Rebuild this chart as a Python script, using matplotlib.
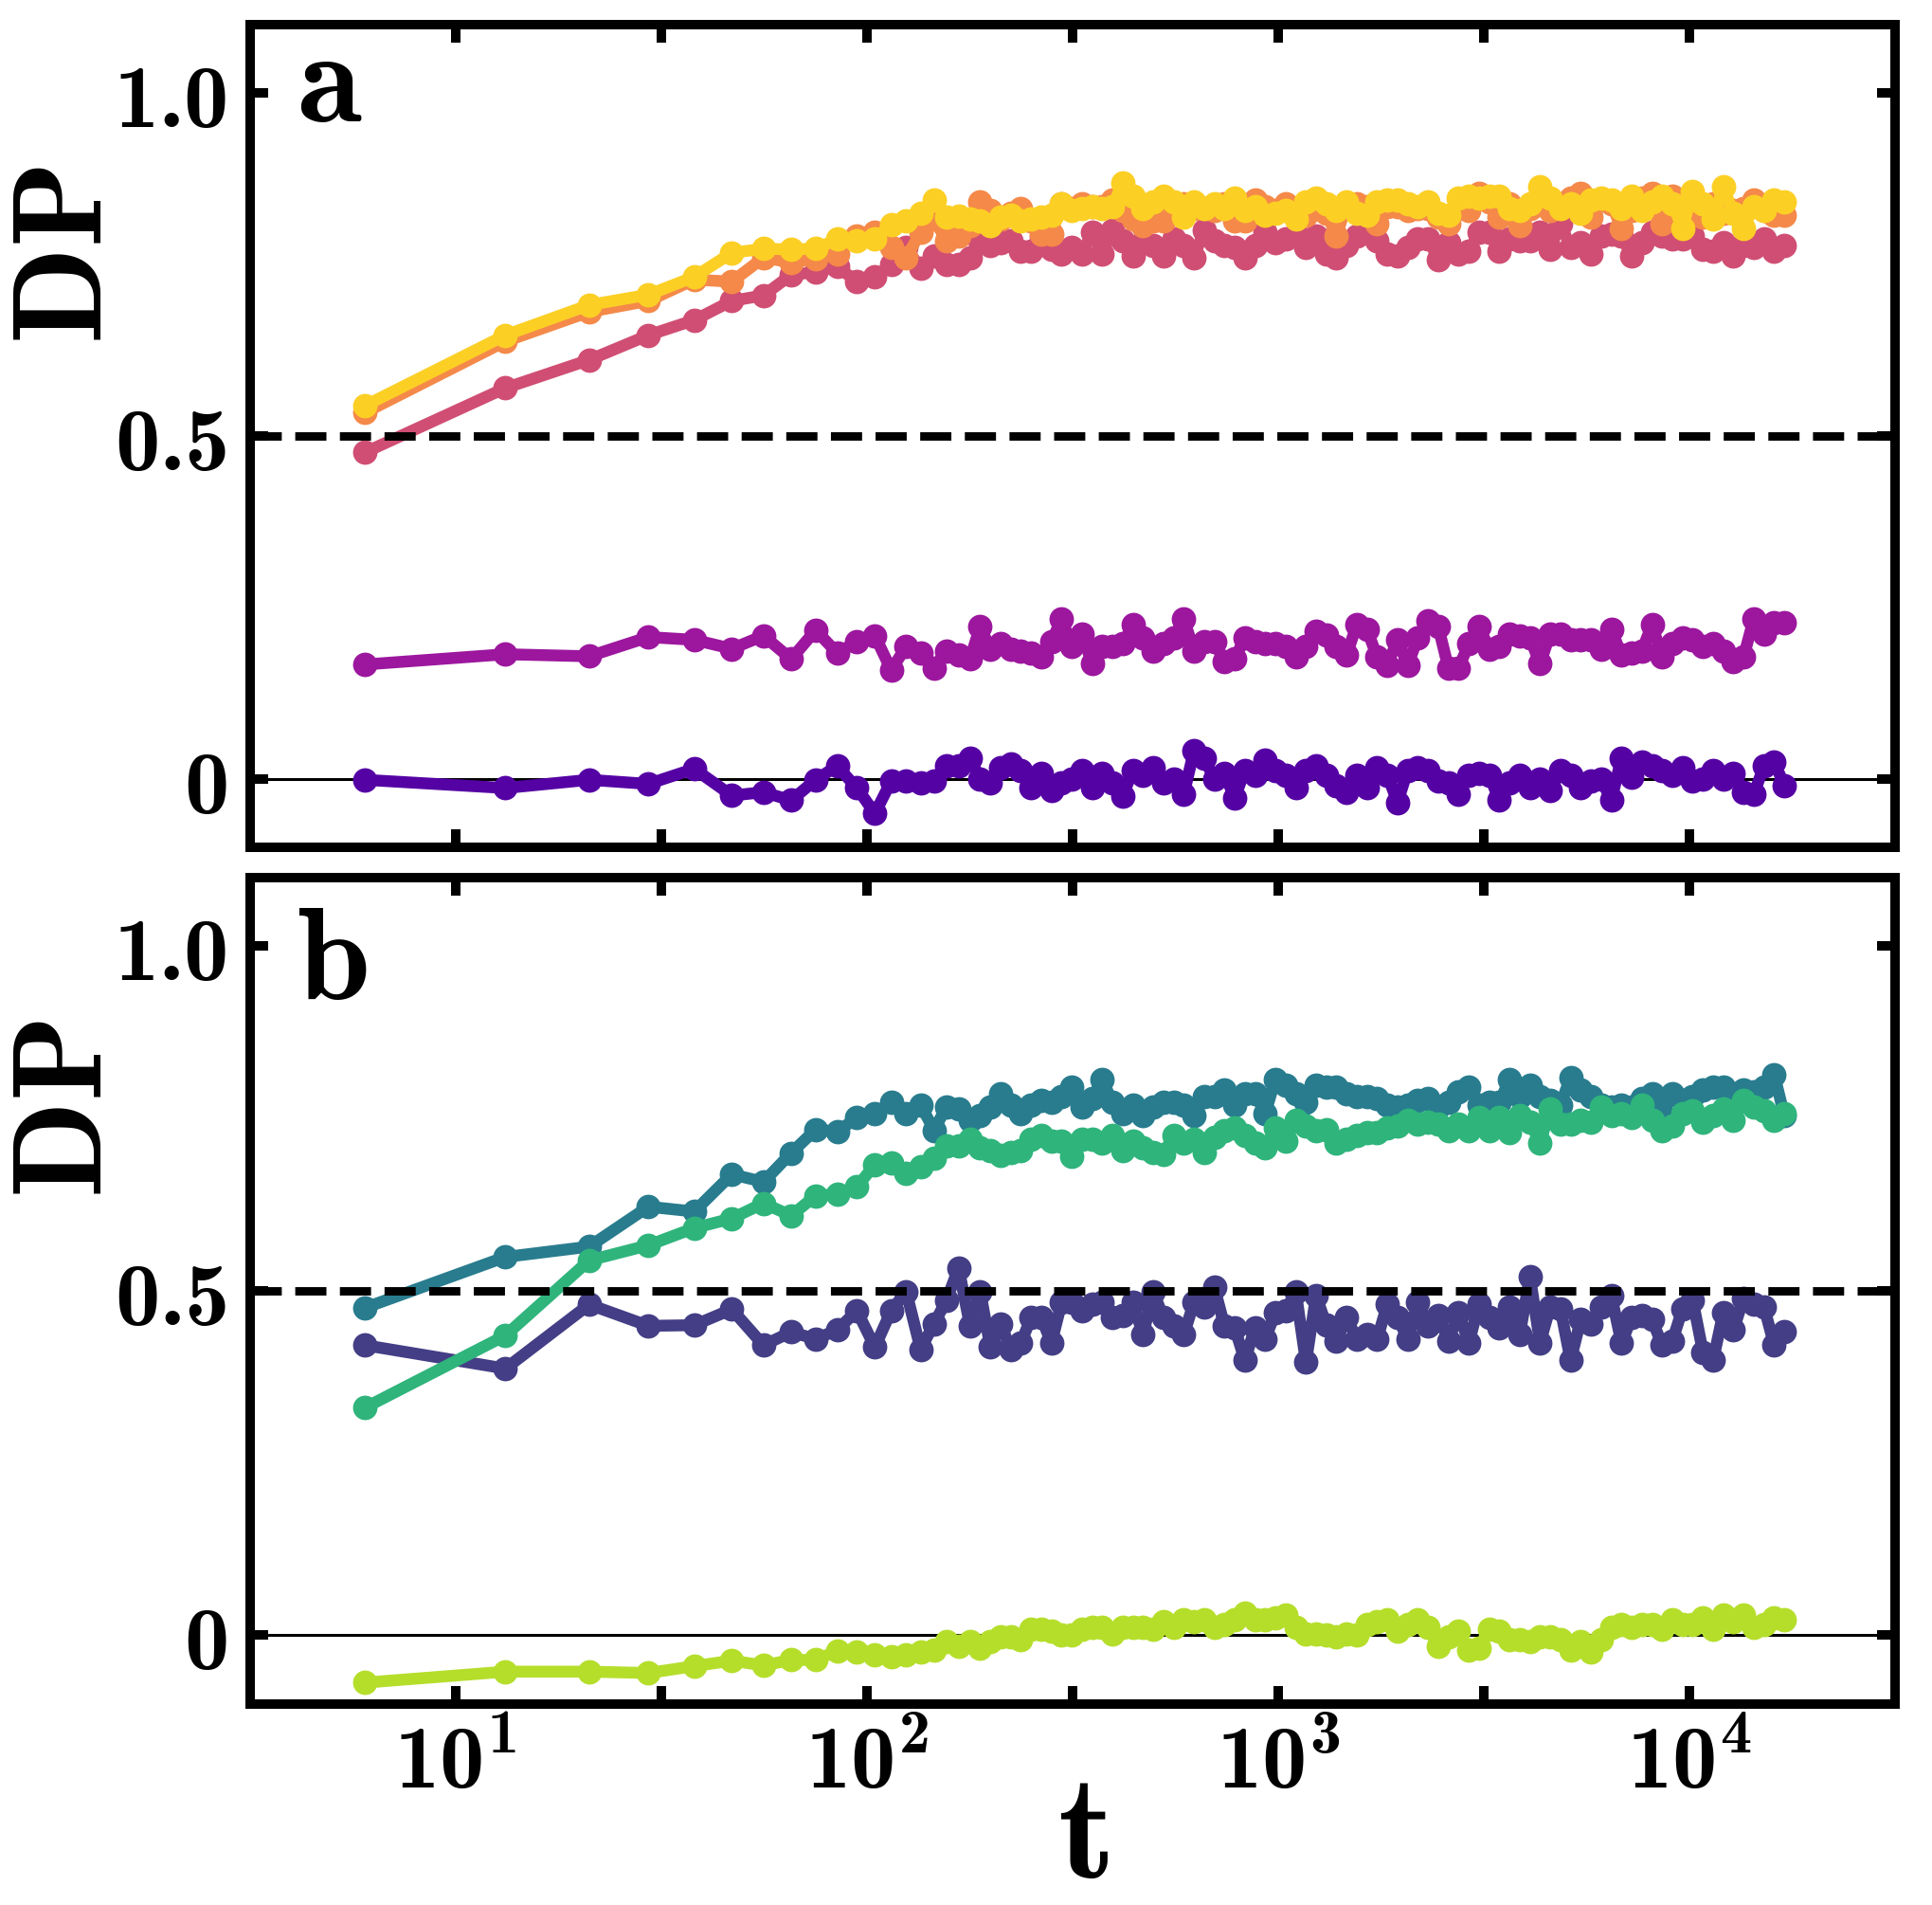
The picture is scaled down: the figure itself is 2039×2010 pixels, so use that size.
import matplotlib
matplotlib.use('Agg')
import matplotlib.pyplot as plt
from matplotlib.ticker import FixedLocator, NullFormatter, NullLocator

plt.rcParams['mathtext.fontset'] = 'custom'
plt.rcParams['mathtext.rm'] = 'cmb10'
plt.rcParams['mathtext.it'] = 'cmb10'
plt.rcParams['mathtext.bf'] = 'cmb10'
plt.rcParams['mathtext.sf'] = 'cmb10'

# ---------------- data ----------------
t = [6.0, 13.2, 21.1, 29.4, 38.0, 46.9, 56.0, 65.4, 75.0, 84.6,
     94.5, 104.5, 114.5, 124.5, 135, 145.5, 156, 167, 178, 188.4,
     199.5, 211.2, 223.6, 236.7, 250.6, 265.3, 280.8, 297.3, 314.7, 333.2,
     352.7, 373.4, 395.3, 418.5, 443.1, 469.1, 496.6, 525.7, 556.5, 589.2,
     623.7, 660.3, 699.0, 740.0, 783.4, 829.4, 878.0, 929.5, 984.1, 1041.8,
     1102.9, 1167.6, 1236.0, 1308.5, 1385.3, 1466.5, 1552.6, 1643.6, 1740.0, 1842.1,
     1950.1, 2064.5, 2185.6, 2313.8, 2449.5, 2593.2, 2745.3, 2906.3, 3076.8, 3257.2,
     3448.3, 3650.5, 3864.7, 4091.3, 4331.3, 4585.3, 4854.3, 5139.0, 5440.4, 5759.5,
     6097.3, 6455.0, 6833.6, 7234.4, 7658.7, 8107.9, 8583.4, 9086.8, 9619.8, 10184,
     10781, 11413, 12083, 12792, 13542, 14336, 15177, 16067, 17009]

a_dark = [-0.001, -0.013, -0.001, -0.007, 0.015, -0.024, -0.019, -0.031, -0.001, 0.019,
          -0.013, -0.050, -0.003, -0.003, -0.006, -0.003, 0.019, 0.019, 0.031, 0.000,
          -0.006, 0.016, 0.022, 0.013, -0.013, 0.009, -0.016, -0.006, 0.000, 0.013,
          -0.013, 0.009, -0.006, -0.025, 0.013, 0.006, 0.016, -0.006, 0.000, -0.022,
          0.041, 0.031, 0.000, 0.009, -0.028, 0.013, 0.006, 0.028, 0.013, 0.006,
          -0.013, 0.013, 0.019, 0.006, -0.009, -0.019, 0.006, -0.013, 0.016, 0.006,
          -0.034, 0.013, 0.016, 0.013, -0.003, -0.006, -0.022, 0.006, 0.009, 0.006,
          -0.031, -0.006, 0.006, -0.013, 0.000, -0.016, 0.013, 0.006, -0.013, -0.003,
          0.000, -0.031, 0.031, 0.003, 0.025, 0.019, 0.013, 0.006, 0.016, -0.003,
          0.000, 0.013, 0.000, 0.009, -0.019, -0.022, 0.019, 0.025, -0.009]

a_magenta = [0.167, 0.182, 0.179, 0.207, 0.203, 0.190, 0.209, 0.175, 0.217, 0.184,
             0.200, 0.209, 0.159, 0.193, 0.184, 0.162, 0.187, 0.181, 0.175, 0.222,
             0.190, 0.197, 0.190, 0.187, 0.184, 0.178, 0.200, 0.234, 0.193, 0.212,
             0.168, 0.193, 0.193, 0.197, 0.225, 0.206, 0.187, 0.197, 0.206, 0.234,
             0.187, 0.200, 0.200, 0.171, 0.175, 0.206, 0.200, 0.197, 0.197, 0.193,
             0.178, 0.193, 0.215, 0.210, 0.193, 0.181, 0.225, 0.218, 0.178, 0.166,
             0.203, 0.166, 0.206, 0.231, 0.222, 0.162, 0.162, 0.197, 0.222, 0.190,
             0.193, 0.212, 0.209, 0.206, 0.168, 0.212, 0.212, 0.203, 0.203, 0.203,
             0.190, 0.218, 0.181, 0.184, 0.187, 0.225, 0.178, 0.197, 0.206, 0.203,
             0.193, 0.197, 0.187, 0.171, 0.178, 0.234, 0.212, 0.228, 0.228]

a_pink = [0.476, 0.570, 0.611, 0.647, 0.669, 0.697, 0.705, 0.735, 0.739, 0.747,
          0.725, 0.732, 0.750, 0.775, 0.744, 0.763, 0.750, 0.750, 0.760, 0.785,
          0.778, 0.782, 0.785, 0.769, 0.769, 0.790, 0.772, 0.766, 0.775, 0.766,
          0.797, 0.766, 0.800, 0.785, 0.763, 0.782, 0.778, 0.763, 0.788, 0.778,
          0.760, 0.800, 0.785, 0.778, 0.775, 0.760, 0.778, 0.797, 0.782, 0.788,
          0.794, 0.775, 0.791, 0.766, 0.760, 0.778, 0.791, 0.797, 0.785, 0.766,
          0.763, 0.775, 0.788, 0.788, 0.757, 0.782, 0.766, 0.769, 0.797, 0.797,
          0.769, 0.788, 0.785, 0.785, 0.797, 0.772, 0.810, 0.775, 0.782, 0.766,
          0.791, 0.794, 0.791, 0.763, 0.782, 0.797, 0.791, 0.788, 0.788, 0.791,
          0.772, 0.769, 0.782, 0.763, 0.778, 0.775, 0.788, 0.769, 0.778]

a_orange = [0.534, 0.638, 0.681, 0.697, 0.728, 0.725, 0.760, 0.753, 0.758, 0.766,
            0.791, 0.797, 0.775, 0.760, 0.797, 0.816, 0.785, 0.791, 0.807, 0.841,
            0.829, 0.816, 0.825, 0.832, 0.813, 0.794, 0.794, 0.838, 0.832, 0.838,
            0.835, 0.835, 0.844, 0.829, 0.816, 0.807, 0.813, 0.813, 0.832, 0.838,
            0.832, 0.832, 0.829, 0.838, 0.813, 0.813, 0.844, 0.835, 0.829, 0.838,
            0.829, 0.822, 0.832, 0.825, 0.791, 0.838, 0.838, 0.835, 0.810, 0.835,
            0.835, 0.829, 0.832, 0.832, 0.819, 0.810, 0.832, 0.829, 0.854, 0.841,
            0.819, 0.838, 0.807, 0.832, 0.844, 0.829, 0.838, 0.847, 0.854, 0.819,
            0.844, 0.838, 0.803, 0.829, 0.847, 0.854, 0.810, 0.850, 0.816, 0.829,
            0.819, 0.838, 0.825, 0.829, 0.832, 0.844, 0.829, 0.822, 0.822]

a_yellow = [0.544, 0.647, 0.691, 0.706, 0.732, 0.767, 0.773, 0.772, 0.773, 0.787,
            0.785, 0.788, 0.808, 0.813, 0.825, 0.844, 0.819, 0.820, 0.816, 0.813,
            0.807, 0.819, 0.822, 0.813, 0.816, 0.819, 0.822, 0.838, 0.829, 0.832,
            0.835, 0.832, 0.835, 0.869, 0.850, 0.832, 0.841, 0.850, 0.841, 0.819,
            0.841, 0.832, 0.838, 0.832, 0.847, 0.829, 0.835, 0.822, 0.825, 0.829,
            0.816, 0.841, 0.847, 0.838, 0.829, 0.841, 0.825, 0.822, 0.841, 0.844,
            0.844, 0.838, 0.835, 0.841, 0.825, 0.822, 0.847, 0.850, 0.847, 0.850,
            0.850, 0.832, 0.829, 0.838, 0.863, 0.847, 0.832, 0.838, 0.825, 0.844,
            0.847, 0.844, 0.832, 0.850, 0.829, 0.841, 0.850, 0.838, 0.803, 0.857,
            0.838, 0.816, 0.863, 0.825, 0.803, 0.835, 0.829, 0.844, 0.841]

b_indigo = [0.421, 0.387, 0.480, 0.449, 0.450, 0.473, 0.421, 0.440, 0.430, 0.443,
            0.471, 0.418, 0.471, 0.499, 0.415, 0.452, 0.486, 0.533, 0.449, 0.499,
            0.418, 0.452, 0.415, 0.424, 0.461, 0.461, 0.424, 0.483, 0.483, 0.471,
            0.480, 0.483, 0.461, 0.464, 0.483, 0.436, 0.499, 0.461, 0.449, 0.436,
            0.483, 0.477, 0.505, 0.449, 0.446, 0.399, 0.446, 0.430, 0.468, 0.471,
            0.499, 0.396, 0.493, 0.450, 0.427, 0.461, 0.430, 0.436, 0.430, 0.480,
            0.461, 0.430, 0.483, 0.449, 0.464, 0.427, 0.468, 0.424, 0.480, 0.461,
            0.446, 0.477, 0.436, 0.521, 0.424, 0.477, 0.474, 0.399, 0.458, 0.452,
            0.477, 0.493, 0.424, 0.461, 0.464, 0.458, 0.421, 0.427, 0.474, 0.486,
            0.411, 0.399, 0.468, 0.443, 0.489, 0.480, 0.477, 0.421, 0.440]

b_teal = [0.475, 0.549, 0.564, 0.622, 0.615, 0.669, 0.658, 0.700, 0.734, 0.731,
          0.751, 0.757, 0.773, 0.757, 0.770, 0.733, 0.767, 0.764, 0.748, 0.754,
          0.767, 0.786, 0.770, 0.757, 0.770, 0.776, 0.773, 0.782, 0.795, 0.767,
          0.779, 0.807, 0.773, 0.757, 0.770, 0.754, 0.767, 0.773, 0.773, 0.770,
          0.754, 0.782, 0.782, 0.792, 0.770, 0.786, 0.786, 0.757, 0.807, 0.798,
          0.786, 0.773, 0.798, 0.796, 0.795, 0.786, 0.782, 0.782, 0.779, 0.770,
          0.767, 0.770, 0.776, 0.779, 0.767, 0.773, 0.789, 0.795, 0.770, 0.773,
          0.773, 0.807, 0.782, 0.798, 0.782, 0.776, 0.770, 0.810, 0.792, 0.782,
          0.770, 0.767, 0.770, 0.767, 0.779, 0.786, 0.757, 0.786, 0.776, 0.782,
          0.792, 0.795, 0.795, 0.786, 0.792, 0.789, 0.795, 0.814, 0.754]

b_green = [0.330, 0.435, 0.544, 0.566, 0.591, 0.605, 0.627, 0.609, 0.638, 0.640,
           0.651, 0.683, 0.686, 0.670, 0.680, 0.692, 0.711, 0.711, 0.720, 0.708,
           0.704, 0.697, 0.701, 0.704, 0.720, 0.726, 0.717, 0.717, 0.695, 0.720,
           0.720, 0.714, 0.726, 0.704, 0.717, 0.708, 0.701, 0.698, 0.726, 0.714,
           0.720, 0.701, 0.723, 0.733, 0.736, 0.726, 0.714, 0.708, 0.736, 0.717,
           0.748, 0.739, 0.733, 0.734, 0.714, 0.720, 0.726, 0.729, 0.729, 0.736,
           0.739, 0.748, 0.742, 0.745, 0.742, 0.733, 0.742, 0.733, 0.751, 0.733,
           0.751, 0.729, 0.754, 0.745, 0.714, 0.764, 0.742, 0.742, 0.748, 0.745,
           0.767, 0.754, 0.757, 0.751, 0.770, 0.748, 0.733, 0.739, 0.757, 0.761,
           0.745, 0.754, 0.764, 0.748, 0.776, 0.767, 0.761, 0.748, 0.757]

b_lime = [-0.069, -0.053, -0.053, -0.055, -0.045, -0.037, -0.044, -0.036, -0.036, -0.023,
          -0.025, -0.028, -0.031, -0.028, -0.025, -0.022, -0.009, -0.016, -0.009, -0.019,
          -0.009, -0.003, -0.003, -0.006, 0.009, 0.009, 0.006, 0.000, 0.000, 0.009,
          0.012, 0.012, 0.002, 0.012, 0.012, 0.012, 0.009, 0.019, 0.012, 0.022,
          0.019, 0.022, 0.012, 0.016, 0.022, 0.032, 0.022, 0.022, 0.025, 0.029,
          0.012, 0.002, 0.002, 0.000, -0.003, 0.002, 0.000, 0.016, 0.019, 0.022,
          0.006, 0.016, 0.022, 0.012, -0.016, -0.003, 0.006, -0.022, -0.019, 0.009,
          0.006, -0.006, -0.006, -0.009, -0.003, -0.003, -0.006, -0.022, -0.009, -0.025,
          -0.006, 0.012, 0.016, 0.012, 0.016, 0.016, 0.009, 0.022, 0.016, 0.016,
          0.025, 0.009, 0.029, 0.019, 0.029, 0.012, 0.016, 0.025, 0.022]

x_major_ticks = [1e1, 1e2, 1e3, 1e4]
x_major_labels = [r'$10^{1}$', r'$10^{2}$', r'$10^{3}$', r'$10^{4}$']
x_minor_ticks = [10 ** 1.5, 10 ** 2.5, 10 ** 3.5]
y_ticks = [0.0, 0.5, 1.0]
y_labels = [r'$0$', r'$0.5$', r'$1.0$']

colors_a = ['#5502a4', '#9c179e', '#d04e73', '#f48949', '#fccf25']
colors_b = ['#433e85', '#287c8e', '#2fb47c', '#b5de2b']
panel_a = [a_dark, a_magenta, a_pink, a_orange, a_yellow]
panel_b = [b_indigo, b_teal, b_green, b_lime]

# ---------------- figure ----------------
fig = plt.figure(figsize=(10.195, 10.05), dpi=200)
axa = fig.add_axes([0.1295, 0.5550, 0.8514, 0.4322])
axb = fig.add_axes([0.1295, 0.1055, 0.8514, 0.4339])

for ax, series, cols, letter, ly in ((axa, panel_a, colors_a, 'a', 0.882),
                                     (axb, panel_b, colors_b, 'b', 0.853)):
    ax.axhline(0.0, color='black', lw=1.1, zorder=1)
    for y, c in zip(series, cols):
        ax.plot(t, y, '-o', color=c, lw=4.5, ms=9.3, mew=0, zorder=2)
    ax.axhline(0.5, color='black', lw=3.2, ls='--', zorder=3)

    ax.set_xscale('log')
    ax.set_xlim(10 ** 0.5, 10 ** 4.5)
    ax.set_ylim(-0.1, 1.1)

    ax.xaxis.set_major_locator(FixedLocator(x_major_ticks))
    ax.xaxis.set_minor_locator(FixedLocator(x_minor_ticks))
    ax.xaxis.set_minor_formatter(NullFormatter())
    ax.set_yticks(y_ticks)
    ax.set_yticklabels(y_labels)
    ax.yaxis.set_minor_locator(NullLocator())

    ax.tick_params(which='both', direction='in', top=True, right=True,
                   length=6.8, width=3.6)
    ax.tick_params(axis='y', labelsize=34, pad=9)
    ax.tick_params(axis='x', labelsize=34, pad=6)
    for sp in ax.spines.values():
        sp.set_linewidth(3.6)

    ax.text(-0.112, 0.72, r'$DP$', rotation=90, ha='center',
            va='center', fontsize=48, transform=ax.transAxes)
    ax.text(0.028, ly, r'$%s$' % letter, ha='left', va='baseline',
            fontsize=50, transform=ax.transAxes)

axa.set_xticklabels([])
axb.set_xticklabels(x_major_labels)

fig.text(0.5606, 0.036, r'$t$', ha='center', va='center', fontsize=56)

fig.savefig('out.png', dpi=200)
